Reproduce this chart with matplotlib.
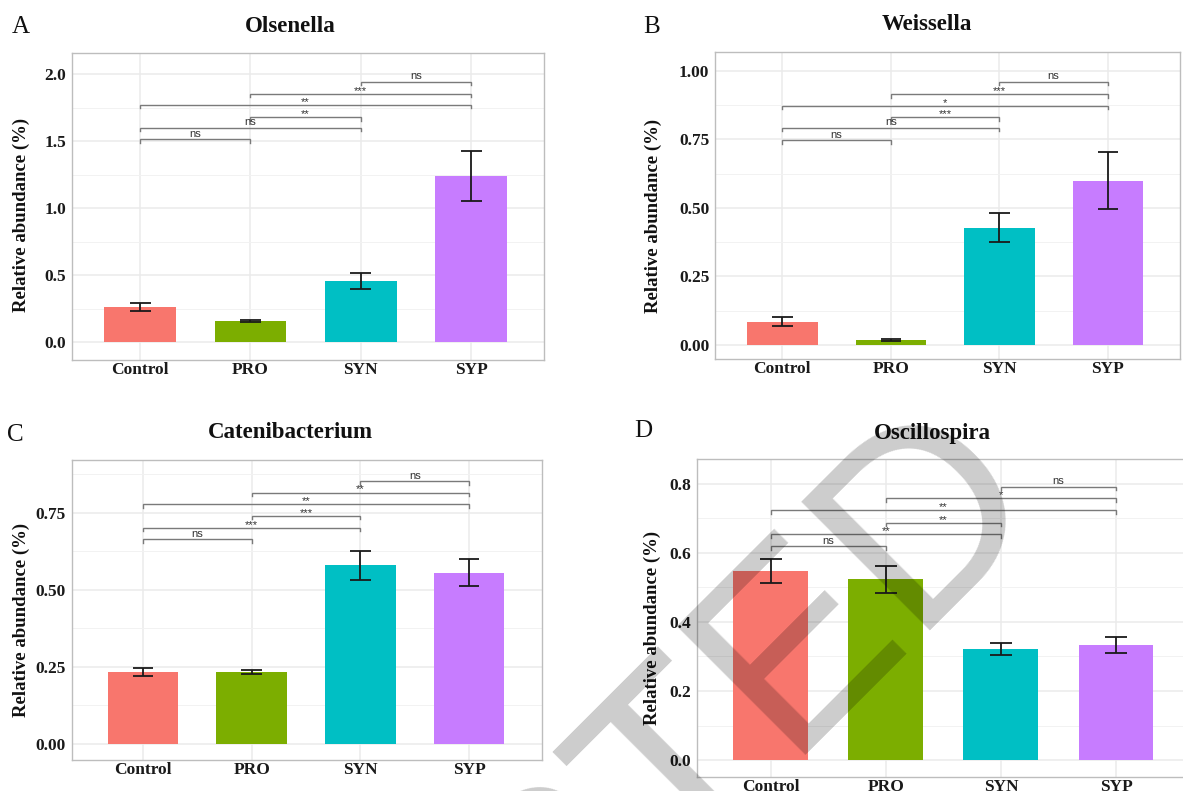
import matplotlib
matplotlib.use("Agg")
import matplotlib.pyplot as plt
from matplotlib.ticker import FixedLocator

W, H = 1183, 791

groups = ["Control", "PRO", "SYN", "SYP"]
colors = ["#F8766D", "#7CAE00", "#00BFC4", "#C77CFF"]
titles = ["Olsenella", "Weissella", "Catenibacterium", "Oscillospira"]
letters = ["A", "B", "C", "D"]

# mean relative abundance (%) and error (SE)
mean_A = [0.265, 0.160, 0.459, 1.240]
err_A = [0.030, 0.010, 0.058, 0.188]
mean_B = [0.085, 0.018, 0.428, 0.600]
err_B = [0.017, 0.003, 0.052, 0.105]
mean_C = [0.233, 0.233, 0.579, 0.556]
err_C = [0.012, 0.007, 0.048, 0.045]
mean_D = [0.547, 0.523, 0.321, 0.334]
err_D = [0.035, 0.039, 0.018, 0.023]

# significance brackets
pairs = [(0, 1), (0, 2), (1, 2), (0, 3), (1, 3), (2, 3)]
sig_y_A = [1.517, 1.600, 1.680, 1.772, 1.856, 1.946]
sig_A = ["ns", "ns", "**", "**", "***", "ns"]
sig_y_B = [0.747, 0.792, 0.831, 0.872, 0.914, 0.961]
sig_B = ["ns", "ns", "***", "*", "***", "ns"]
sig_y_C = [0.664, 0.701, 0.739, 0.777, 0.815, 0.852]
sig_C = ["ns", "***", "***", "**", "**", "ns"]
sig_y_D = [0.618, 0.653, 0.686, 0.723, 0.757, 0.790]
sig_D = ["ns", "**", "**", "**", "*", "ns"]

yticks_A = [0.0, 0.5, 1.0, 1.5, 2.0]
ytl_A = ["0.0", "0.5", "1.0", "1.5", "2.0"]
yticks_B = [0.0, 0.25, 0.5, 0.75, 1.0]
ytl_B = ["0.00", "0.25", "0.50", "0.75", "1.00"]
yticks_C = [0.0, 0.25, 0.5, 0.75]
ytl_C = ["0.00", "0.25", "0.50", "0.75"]
yticks_D = [0.0, 0.2, 0.4, 0.6, 0.8]
ytl_D = ["0.0", "0.2", "0.4", "0.6", "0.8"]

panels = [
    dict(mean=mean_A, err=err_A, sy=sig_y_A, sl=sig_A, yt=yticks_A, ytl=ytl_A,
         rect=(71.5, 53.3, 544.0, 360.0), xlim=(0.378, 4.66), ylim=(-0.132, 2.158),
         title=(290, 26), letter=(21, 27), ylab=(21.5, 215)),
    dict(mean=mean_B, err=err_B, sy=sig_y_B, sl=sig_B, yt=yticks_B, ytl=ytl_B,
         rect=(715.0, 51.7, 1179.5, 359.0), xlim=(0.38, 4.66), ylim=(-0.051, 1.070),
         title=(927, 25), letter=(652, 27), ylab=(653.5, 216)),
    dict(mean=mean_C, err=err_C, sy=sig_y_C, sl=sig_C, yt=yticks_C, ytl=ytl_C,
         rect=(71.5, 460.0, 542.0, 760.0), xlim=(0.343, 4.67), ylim=(-0.052, 0.921),
         title=(290, 433), letter=(15, 435), ylab=(21, 620)),
    dict(mean=mean_D, err=err_D, sy=sig_y_D, sl=sig_D, yt=yticks_D, ytl=ytl_D,
         rect=(697.0, 459.3, 1192.0, 776.7), xlim=(0.36, 4.66), ylim=(-0.048, 0.870),
         title=(932, 433), letter=(643, 431), ylab=(652.5, 628)),
]

serif = ["Liberation Serif", "DejaVu Serif"]
sans = ["Liberation Sans", "DejaVu Sans"]

fig = plt.figure(figsize=(W / 100, H / 100), dpi=100)
fig.patch.set_facecolor("white")

x = [1, 2, 3, 4]
for i, p in enumerate(panels):
    l, t, r, b = p["rect"]
    ax = fig.add_axes([l / W, 1 - b / H, (r - l) / W, (b - t) / H])
    ax.set_xlim(*p["xlim"])
    ax.set_ylim(*p["ylim"])
    # grid
    yt = p["yt"]
    step = yt[1] - yt[0]
    minors = [v + step / 2 for v in yt]
    minors = [m for m in minors if m < p["ylim"][1]]
    ax.yaxis.set_major_locator(FixedLocator(yt))
    ax.yaxis.set_minor_locator(FixedLocator(minors))
    ax.xaxis.set_major_locator(FixedLocator(x))
    ax.set_yticklabels(p["ytl"])
    ax.set_xticklabels(groups)
    ax.grid(True, which="major", color="#EBEBEB", lw=1.1, zorder=0)
    ax.grid(True, which="minor", axis="y", color="#F2F2F2", lw=0.7, zorder=0)
    ax.set_axisbelow(True)
    for s in ax.spines.values():
        s.set_color("#BDBDBD")
        s.set_linewidth(1.0)
    ax.tick_params(axis="both", which="both", length=0)
    ax.tick_params(axis="y", pad=4)
    ax.tick_params(axis="x", pad=1.5)
    for lab in ax.get_yticklabels() + ax.get_xticklabels():
        lab.set_fontfamily(serif)
        lab.set_fontweight("bold")
        lab.set_fontsize(12.5)
        lab.set_color("#1a1a1a")

    # bars
    ax.bar(x, p["mean"], width=0.65, color=colors, zorder=2)
    lo = [m - e for m, e in zip(p["mean"], p["err"])]
    hi = [m + e for m, e in zip(p["mean"], p["err"])]
    ax.vlines(x, lo, hi, color="#1a1a1a", lw=1.3, zorder=3)
    ax.hlines(lo, [xi - 0.095 for xi in x], [xi + 0.095 for xi in x], color="#1a1a1a", lw=1.3, zorder=3)
    ax.hlines(hi, [xi - 0.095 for xi in x], [xi + 0.095 for xi in x], color="#1a1a1a", lw=1.3, zorder=3)

    # significance brackets
    rng = p["ylim"][1] - p["ylim"][0]
    tip = 0.011 * rng
    for (a, c), yy, lab in zip(pairs, p["sy"], p["sl"]):
        xa, xc = x[a], x[c]
        ax.plot([xa, xa, xc, xc], [yy - tip, yy, yy, yy - tip], color="#7a7a7a", lw=1.0,
                solid_joinstyle="miter", zorder=4)
        ax.text((xa + xc) / 2, yy + (0.002 * rng if lab == "ns" else -0.006 * rng),
                lab, ha="center", va="bottom", fontsize=8, color="#333333",
                family=sans, zorder=5)

    tx, ty = p["title"]
    fig.text(tx / W, 1 - ty / H, titles[i], ha="center", va="center", fontsize=16.5,
             fontweight="bold", family=serif, color="#111111")
    lx, ly = p["letter"]
    fig.text(lx / W, 1 - ly / H, letters[i], ha="center", va="center", fontsize=18,
             family=serif, color="#111111")
    yx, yy2 = p["ylab"]
    fig.text(yx / W, 1 - yy2 / H, "Relative abundance (%)", ha="center", va="center",
             rotation=90, fontsize=13.5, fontweight="bold", family=serif, color="#111111")

# watermark
fig.text(1002 / W, 1 - 462 / H, "ACCEPTED", rotation=45, rotation_mode="anchor",
         ha="right", va="center", fontsize=190, color="black", alpha=0.2,
         family=sans, zorder=20)

fig.savefig("out.png", dpi=100, facecolor="white")
